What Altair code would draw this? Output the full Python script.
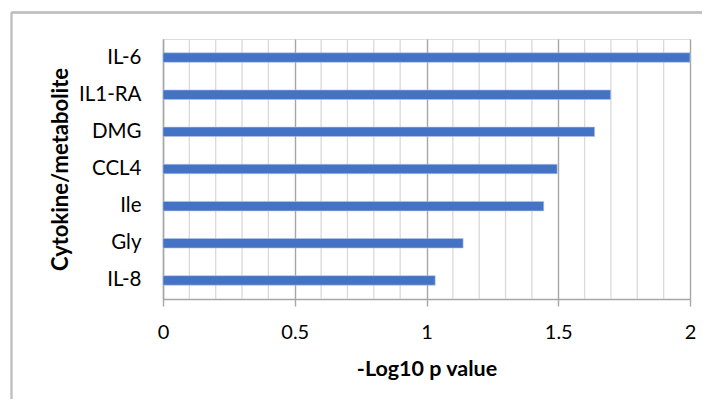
import altair as alt
import pandas as pd

categories = ["IL-6", "IL1-RA", "DMG", "CCL4", "Ile", "Gly", "IL-8"]
values = [2.0, 1.699, 1.638, 1.496, 1.445, 1.139, 1.033]
major_ticks = [0, 0.5, 1, 1.5, 2]
minor_ticks = [0.1, 0.2, 0.3, 0.4, 0.6, 0.7, 0.8, 0.9, 1.1, 1.2, 1.3, 1.4, 1.6, 1.7, 1.8, 1.9]

df = pd.DataFrame({"cat": categories, "val": values})
minor_df = pd.DataFrame({"v": minor_ticks})

FONT = "Lato"
BLUE = "#4472C4"
MAJOR = "#a6a6a6"
MINOR = "#d9d9d9"

x_scale = alt.Scale(domain=[0, 2], nice=False, zero=True)

minor = alt.Chart(minor_df).mark_rule(color=MINOR, strokeWidth=1.3).encode(
    x=alt.X("v:Q", scale=x_scale)
)

bars = alt.Chart(df).mark_bar(color=BLUE, size=9.5, stroke="#b4c7e7", strokeWidth=0.6).encode(
    x=alt.X(
        "val:Q",
        scale=x_scale,
        title="-Log10 p value",
        axis=alt.Axis(
            values=major_ticks,
            format="~g",
            grid=True,
            gridColor=MAJOR,
            gridWidth=1.4,
            domainColor=MAJOR,
            domainWidth=1.4,
            tickColor=MAJOR,
            tickWidth=1.4,
            tickSize=7,
            labelFlush=False,
            labelFont=FONT,
            labelFontSize=20,
            labelColor="#000000",
            labelPadding=16,
            titleFont=FONT,
            titleFontSize=21.5,
            titleFontWeight="bold",
            titleColor="#000000",
            titlePadding=16,
        ),
    ),
    y=alt.Y(
        "cat:N",
        sort=categories,
        title="Cytokine/metabolite",
        axis=alt.Axis(
            ticks=False,
            grid=False,
            domainColor=MAJOR,
            domainWidth=1.4,
            labelFont=FONT,
            labelFontSize=20.5,
            labelColor="#000000",
            labelPadding=22,
            titleFont=FONT,
            titleFontSize=22,
            titleFontWeight="bold",
            titleColor="#000000",
            titlePadding=6,
        ),
    ),
)

border_top = alt.Chart(df).mark_rule(color="#bfbfbf", strokeWidth=1.3).encode(
    x=alt.value(-151.5), x2=alt.value(545), y=alt.value(-26.5)
)
border_left = alt.Chart(df).mark_rule(color="#bfbfbf", strokeWidth=1.3).encode(
    x=alt.value(-151.5), y=alt.value(-26.5), y2=alt.value(400)
)

chart = (
    alt.layer(border_top, border_left, minor, bars)
    .properties(
        width=527,
        height=260,
        autosize=alt.AutoSizeParams(type="none"),
        padding={"left": 155, "top": 31, "right": 12, "bottom": 100},
    )
    .configure_view(stroke=None)
    .configure(background="white")
)

chart.save("out.html", embed_options={"renderer": "svg", "actions": False})
